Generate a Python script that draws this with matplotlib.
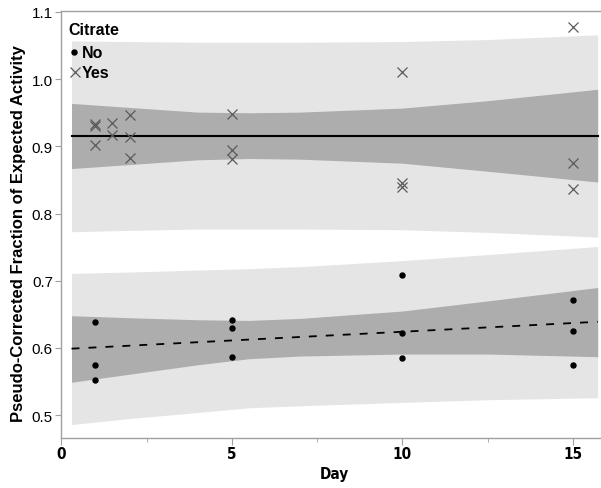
import matplotlib
matplotlib.use('Agg')
import matplotlib.pyplot as plt

# measured fraction of expected activity by day
yes_day = [1, 1, 1, 1.5, 1.5, 2, 2, 2, 5, 5, 5, 10, 10, 10, 15, 15, 15]
yes_val = [0.933, 0.930, 0.902, 0.935, 0.917, 0.947, 0.914, 0.883,
           0.948, 0.895, 0.881, 1.010, 0.846, 0.839, 1.077, 0.875, 0.837]
no_day = [1, 1, 1, 5, 5, 5, 10, 10, 10, 15, 15, 15]
no_val = [0.638, 0.574, 0.553, 0.642, 0.629, 0.587,
          0.709, 0.623, 0.585, 0.672, 0.625, 0.575]

# fitted lines
fit_day = [0.3, 15.73]
yes_fit = [0.9157, 0.9157]
no_fit = [0.599, 0.639]

# confidence (inner) and prediction (outer) bands
band_day = [0.3, 2, 4, 5.5, 7, 10, 12.5, 15.73]
yes_pred_hi = [1.057, 1.056, 1.055, 1.055, 1.055, 1.056, 1.059, 1.066]
yes_pred_lo = [0.773, 0.775, 0.777, 0.777, 0.777, 0.776, 0.772, 0.765]
yes_conf_hi = [0.964, 0.958, 0.951, 0.950, 0.951, 0.957, 0.968, 0.985]
yes_conf_lo = [0.867, 0.873, 0.880, 0.882, 0.881, 0.875, 0.863, 0.847]
no_pred_hi = [0.711, 0.713, 0.716, 0.718, 0.721, 0.730, 0.739, 0.751]
no_pred_lo = [0.486, 0.495, 0.504, 0.511, 0.514, 0.519, 0.523, 0.526]
no_conf_hi = [0.648, 0.645, 0.642, 0.641, 0.644, 0.655, 0.670, 0.690]
no_conf_lo = [0.549, 0.561, 0.575, 0.584, 0.588, 0.591, 0.591, 0.587]

light = '#e5e5e5'
dark = '#adadad'
spine = '#a0a0a0'
cross = '#5a5a5a'
bold = {'family': 'Liberation Sans', 'weight': 'bold', 'size': 11.5}

fig = plt.figure(figsize=(6.01, 4.89), dpi=100)
ax = fig.add_axes([0.102, 0.1022, 0.9078, 0.8726])

ax.fill_between(band_day, yes_pred_lo, yes_pred_hi, color=light, lw=0)
ax.fill_between(band_day, no_pred_lo, no_pred_hi, color=light, lw=0)
ax.fill_between(band_day, yes_conf_lo, yes_conf_hi, color=dark, lw=0)
ax.fill_between(band_day, no_conf_lo, no_conf_hi, color=dark, lw=0)

ax.plot(fit_day, yes_fit, color='black', lw=1.5)
ax.plot(fit_day, no_fit, color='black', lw=1.3, dashes=(4.4, 5.0))

ax.plot(yes_day, yes_val, ls='none', marker='x', ms=7.5, mew=0.9,
        color=cross)
ax.plot(no_day, no_val, ls='none', marker='o', ms=3.6, color='black')

ax.set_xlim(0, 16)
ax.set_ylim(0.466, 1.101)
ax.set_xticks([0, 5, 10, 15])
ax.set_xticks([2.5, 7.5, 12.5], minor=True)
ax.set_yticks([0.5, 0.6, 0.7, 0.8, 0.9, 1.0, 1.1])
ax.set_yticklabels(['0.5', '0.6', '0.7', '0.8', '0.9', '1.0', '1.1'],
                   family='Liberation Sans', fontsize=11)
ax.set_xticklabels(['0', '5', '10', '15'], family='DejaVu Sans',
                   fontstretch='condensed', fontweight='bold', fontsize=11)
ax.tick_params(axis='both', which='both', color=spine, direction='out')
ax.tick_params(axis='y', length=4, pad=2)
ax.tick_params(axis='x', which='major', length=5, pad=1)
ax.tick_params(axis='x', which='minor', length=3)

for side in ['left', 'bottom', 'top']:
    ax.spines[side].set_color(spine)
    ax.spines[side].set_linewidth(1.0)
ax.spines['right'].set_visible(False)

ax.set_xlabel('Day', family='DejaVu Sans', fontstretch='condensed',
              fontweight='bold', fontsize=11, labelpad=3)
ax.set_ylabel('Pseudo-Corrected Fraction of Expected Activity',
              family='Liberation Sans', fontweight='bold', fontsize=12)
ax.yaxis.set_label_coords(-0.065, 0.481)

# legend drawn by hand in the upper left corner
ax.text(0.0128, 0.9585, 'Citrate', transform=ax.transAxes, va='center',
        ha='left', fontdict=bold)
ax.plot([0.0233], [0.9046], transform=ax.transAxes, ls='none', marker='o',
        ms=3.6, color='black', clip_on=False)
ax.text(0.0374, 0.9046, 'No', transform=ax.transAxes, va='center',
        ha='left', fontdict=bold)
ax.plot([0.0251], [0.8577], transform=ax.transAxes, ls='none', marker='x',
        ms=7.5, mew=0.9, color=cross, clip_on=False)
ax.text(0.0374, 0.8577, 'Yes', transform=ax.transAxes, va='center',
        ha='left', fontdict=bold)

fig.savefig('out.png', dpi=100)
